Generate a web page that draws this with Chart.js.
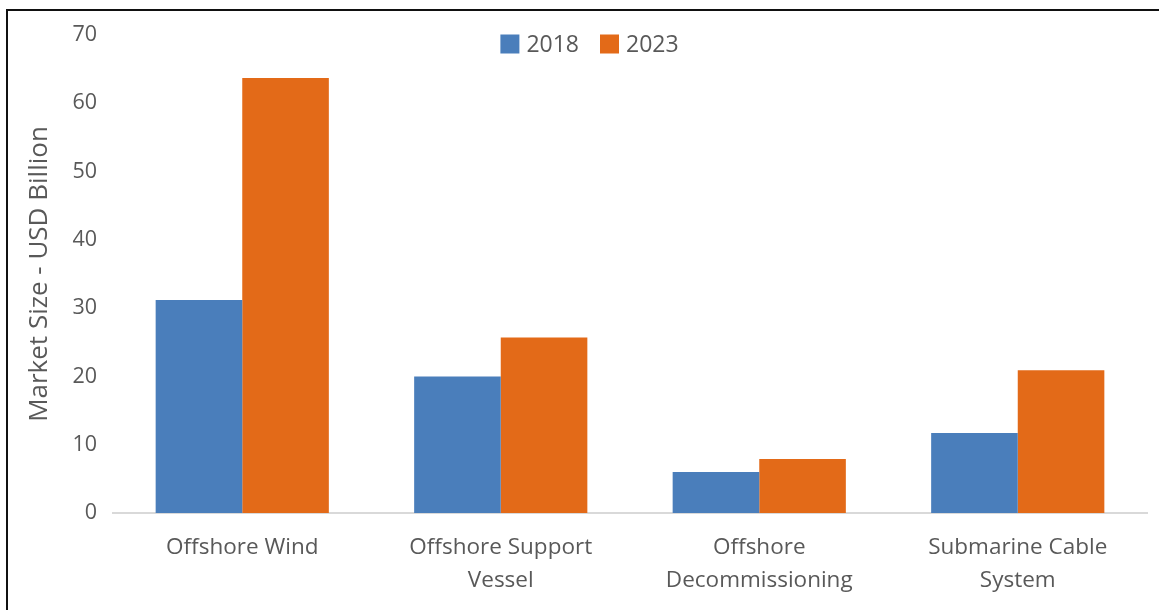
<!DOCTYPE html>
<html>
<head>
<meta charset="utf-8">
<script src="https://cdn.jsdelivr.net/npm/chart.js@4/dist/chart.umd.min.js"></script>
<style>
  html, body { margin: 0; padding: 0; background: #fff; overflow: hidden; }
  #wrap { position: relative; width: 1159px; height: 610px; }
  #frame {
    position: absolute; left: 6px; top: 9px; right: -10px; bottom: -10px;
    border-top: 2px solid #111; border-left: 2px solid #111;
    pointer-events: none;
  }
</style>
</head>
<body>
<div id="wrap">
  <canvas id="marketChart" width="1159" height="610"></canvas>
  <div id="frame"></div>
</div>
<script>
const categories = [
  ["Offshore Wind"],
  ["Offshore Support", "Vessel"],
  ["Offshore", "Decommissioning"],
  ["Submarine Cable", "System"]
];
const seriesNames = ["2018", "2023"];
const values2018 = [31.2, 20.0, 6.0, 11.7];
const values2023 = [63.7, 25.7, 7.9, 20.9];
const yTicks = [0, 10, 20, 30, 40, 50, 60, 70];

const textGrey = "#595959";
const fontFamily = "'Open Sans', 'DejaVu Sans', sans-serif";

// legend drawn by hand so it can sit inside the plot area
const topLegend = {
  id: "topLegend",
  afterDraw(chart) {
    const ctx = chart.ctx;
    const box = 19;
    const gap = 21;
    const y = 44;
    ctx.save();
    ctx.font = "23px " + fontFamily;
    ctx.textBaseline = "middle";
    let widths = chart.data.datasets.map(ds => ctx.measureText(ds.label).width);
    let total = 0;
    widths.forEach((w, i) => { total += box + 7 + w + (i < widths.length - 1 ? gap : 0); });
    let x = chart.width / 2 + 10 - total / 2;
    chart.data.datasets.forEach((ds, i) => {
      ctx.fillStyle = ds.backgroundColor;
      ctx.fillRect(x, y - box / 2, box, box);
      x += box + 7;
      ctx.fillStyle = textGrey;
      ctx.fillText(ds.label, x, y + 1);
      x += widths[i] + gap;
    });
    ctx.restore();
  }
};

let ctx = document.getElementById("marketChart").getContext("2d");
let chart = new Chart(ctx, {
  type: "bar",
  data: {
    labels: categories,
    datasets: [
      {
        label: seriesNames[0],
        data: values2018,
        backgroundColor: "#4a7ebb",
        borderWidth: 0
      },
      {
        label: seriesNames[1],
        data: values2023,
        backgroundColor: "#e36a18",
        borderWidth: 0
      }
    ]
  },
  options: {
    responsive: false,
    animation: false,
    layout: { padding: { left: 10, right: 12, top: 35, bottom: 0 } },
    categoryPercentage: 0.67,
    barPercentage: 1.0,
    plugins: {
      legend: { display: false },
      tooltip: { enabled: false }
    },
    scales: {
      x: {
        grid: { display: false, drawTicks: false },
        border: { display: true, color: "#d9d9d9", width: 2 },
        ticks: {
          color: textGrey,
          font: { family: fontFamily, size: 22.5, lineHeight: 1.47 },
          padding: 18,
          maxRotation: 0,
          autoSkip: false
        },
        afterFit(scale) { scale.height = 97; }
      },
      y: {
        min: 0,
        max: 70,
        afterBuildTicks(scale) { scale.ticks = yTicks.map(v => ({ value: v })); },
        grid: { display: false, drawTicks: false },
        border: { display: false },
        ticks: {
          color: textGrey,
          font: { family: fontFamily, size: 21.5 },
          padding: 16
        },
        title: {
          display: true,
          text: "Market Size - USD Billion",
          color: textGrey,
          font: { family: fontFamily, size: 26 },
          padding: { top: 14, bottom: 0 }
        },
        afterFit(scale) { scale.width = 103; }
      }
    }
  },
  plugins: [topLegend]
});
</script>
</body>
</html>
